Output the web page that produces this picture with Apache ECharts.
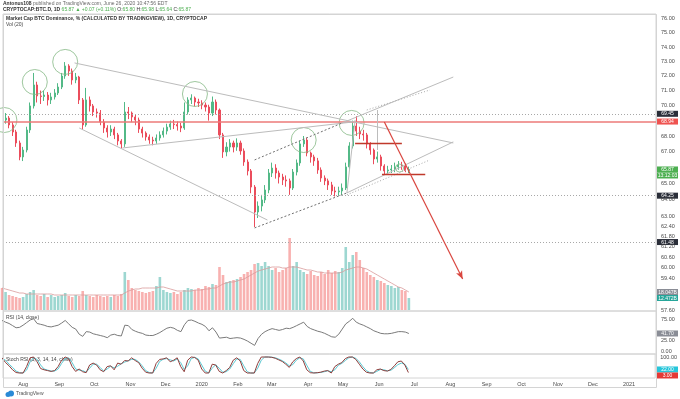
<!DOCTYPE html>
<html>
<head>
<meta charset="utf-8">
<script src="https://cdn.jsdelivr.net/npm/echarts@6/dist/echarts.min.js"></script>
<style>
  html, body { margin: 0; padding: 0; background: #fff; }
  #chart { width: 680px; height: 399px; }
</style>
</head>
<body>
<div id="chart"></div>
<script>
// BTC dominance, 3-day candles: [open, close, low, high]
const firstDate = '2019-07-14';
const stepDays = 3;
const candles = [
  [69.30,69.04,68.70,69.55],[69.04,69.17,68.80,69.50],[69.17,68.72,68.50,69.30],[68.72,68.26,68.00,68.90],[68.26,67.55,67.30,68.40],
  [67.55,66.66,66.45,67.70],[66.66,67.10,66.40,67.30],[67.10,68.39,66.95,68.60],[68.39,69.97,68.20,70.20],[69.97,71.38,69.80,72.20],
  [71.38,70.64,70.20,71.60],[70.64,70.60,70.10,71.00],[70.60,70.70,70.30,71.00],[70.70,70.37,70.00,70.90],[70.37,70.57,70.10,70.85],
  [70.57,70.84,70.40,71.10],[70.84,71.24,70.70,71.50],[71.24,71.99,71.10,72.20],[71.99,72.68,71.80,72.95],[72.68,72.33,72.00,72.80],
  [72.33,71.72,71.40,72.50],[71.72,71.92,71.50,72.20],[71.92,70.37,70.10,72.00],[70.37,68.72,68.40,70.50],[68.72,70.37,68.60,71.18],
  [70.37,69.97,69.60,70.60],[69.97,69.57,69.30,70.10],[69.57,69.50,69.20,69.80],[69.50,68.91,68.70,69.70],[68.91,68.52,68.20,69.10],
  [68.52,68.26,67.90,68.70],[68.26,68.45,68.00,68.70],[68.45,68.07,67.80,68.60],[68.07,67.68,67.40,68.20],[67.68,67.49,67.20,67.80],
  [67.49,69.57,67.30,70.23],[69.57,69.50,69.10,69.90],[69.50,69.24,68.90,69.60],[69.24,69.04,68.70,69.40],[69.04,68.45,68.20,69.20],
  [68.45,68.19,67.90,68.60],[68.19,67.94,67.70,68.30],[67.94,67.74,67.50,68.10],[67.74,67.68,67.40,67.95],[67.68,67.87,67.50,68.10],
  [67.87,68.07,67.70,68.30],[68.07,68.32,67.90,68.55],[68.32,68.58,68.10,68.80],[68.58,68.78,68.40,69.00],[68.78,68.74,68.45,69.05],
  [68.74,68.65,68.35,68.95],[68.65,68.52,68.25,68.85],[68.52,69.57,68.40,70.20],[69.57,70.37,69.40,70.55],[70.37,70.50,70.10,70.75],
  [70.50,70.23,69.95,70.60],[70.23,70.17,69.90,70.45],[70.17,70.03,69.75,70.35],[70.03,69.90,69.60,70.20],[69.90,69.50,69.00,70.05],
  [69.50,70.23,69.30,70.60],[70.23,69.70,69.40,70.40],[69.70,68.07,67.80,69.80],[68.07,66.98,66.60,68.20],[66.98,67.29,66.70,67.60],
  [67.29,67.55,67.00,67.80],[67.55,67.29,66.95,67.70],[67.29,67.55,67.05,67.85],[67.55,67.04,66.80,67.70],[67.04,66.34,66.10,67.20],
  [66.34,65.78,65.50,66.50],[65.78,64.78,64.40,65.90],[64.78,63.26,62.36,64.90],[63.26,63.62,62.90,63.90],[63.62,63.99,63.30,64.30],
  [63.99,64.60,63.80,64.90],[64.60,65.65,64.40,65.90],[65.65,65.96,65.40,66.30],[65.96,65.65,65.30,66.20],[65.65,65.40,65.00,65.80],
  [65.40,65.22,64.90,65.60],[65.22,65.16,64.80,65.50],[65.16,64.72,64.30,65.30],[64.72,65.71,64.60,65.90],[65.71,66.28,65.50,66.50],
  [66.28,67.49,66.10,67.70],[67.49,67.74,67.30,68.00],[67.74,66.91,66.70,67.90],[66.91,66.66,66.30,67.00],[66.66,66.41,66.10,66.80],
  [66.41,65.84,65.60,66.60],[65.84,65.34,65.10,66.00],[65.34,65.16,64.90,65.50],[65.16,64.91,64.60,65.30],[64.91,64.54,64.30,65.10],
  [64.54,64.48,64.20,64.80],[64.48,64.54,64.25,64.80],[64.54,64.72,64.30,65.00],[64.72,66.03,64.60,66.30],[66.03,67.36,65.90,67.60],
  [67.36,68.65,67.20,69.00],[68.65,68.32,68.00,69.30],[68.32,68.13,67.80,68.60],[68.13,68.07,67.70,68.40],[68.07,67.49,67.20,68.20],
  [67.49,67.10,66.80,67.60],[67.10,66.53,66.20,67.20],[66.53,66.66,66.30,67.00],[66.66,66.09,65.80,66.80],[66.09,65.78,65.55,66.20],
  [65.78,65.84,65.60,66.10],[65.84,65.90,65.65,66.15],[65.90,66.03,65.70,66.30],[66.03,66.15,65.85,66.40],[66.15,66.09,65.85,66.35],
  [66.09,65.80,65.70,66.25],[65.80,65.87,65.64,66.05]
];
const volumes = [
  22,18,15,14,13,12,13,16,18,20, 15,14,16,13,15,13,14,15,17,14,
  13,15,14,19,15,14,13,15,14,13, 14,13,15,14,16,38,30,22,20,19,
  18,17,18,19,24,33,20,18,17,18, 16,18,20,22,21,20,22,21,24,23,
  26,25,43,35,28,29,30,31,33,36, 38,40,46,47,44,48,44,40,42,38,
  40,42,72,44,48,40,38,36,39,35, 34,38,36,40,37,39,38,42,63,48,
  55,58,50,42,38,35,33,30,29,27, 25,24,22,23,20,19,12
];
const volumeMa = [
  22,21,20,19,18,17,17,16,16,16, 16,16,16,16,16,15,15,15,15,15,
  15,15,15,15,15,15,15,15,15,15, 15,15,15,15,15,17,19,20,21,21,
  22,22,22,22,22,23,23,22,21,20, 19,19,19,19,19,20,20,20,21,21,
  22,22,24,26,27,28,28,29,30,31, 33,35,37,39,40,41,42,43,43,43,
  42,42,43,43,43,42,41,40,40,39, 38,38,37,37,37,37,37,38,40,41,
  42,43,43,42,41,39,37,35,33,31, 29,27,25,23,22,20,18
];
const rsi = [
  72,68,65,60,55,56,61,67,73,76, 65,63,61,58,57,59,61,66,72,64,
  56,52,40,35,46,45,41,39,37,35, 32,38,40,37,36,61,60,51,47,44,
  42,38,37,37,40,44,49,54,56,54, 49,46,62,72,73,70,66,63,58,48,
  55,45,31,32,33,30,31,32,31,28, 24,19,14,30,40,46,50,53,51,49,
  51,54,53,56,60,64,68,58,53,50, 47,45,42,38,34,33,40,52,64,70,
  77,68,64,61,57,53,48,45,42,41, 41,42,44,46,46,45,41.7
];
const stochK = [
  95,65,45,20,3,0,0,40,95,100, 70,28,20,15,10,15,40,80,100,90,
  40,10,25,8,2,50,62,50,20,8, 40,45,20,62,55,78,75,95,78,65,
  30,5,0,0,60,85,88,95,70,80, 95,40,8,80,100,97,80,25,0,0,
  55,50,10,0,15,35,80,95,75,15, 0,0,0,60,100,100,100,98,92,82,
  72,55,35,70,90,100,75,20,2,0, 2,5,12,15,0,40,55,65,90,100,
  100,85,55,25,5,0,0,20,25,15, 12,22,45,70,75,50,3
];
const stochD = [
  90,80,55,35,12,2,0,18,70,95, 85,50,25,18,12,12,25,60,90,95,
  65,25,18,15,5,30,55,55,35,12, 25,42,32,42,58,68,77,85,85,70,
  45,15,3,0,30,72,86,90,82,75, 88,65,22,45,90,98,88,50,12,0,
  30,52,30,5,8,25,58,88,85,45, 8,0,0,30,80,100,100,99,95,87,
  77,63,45,52,80,95,88,48,10,1, 1,4,8,14,8,20,48,60,78,95,
  100,92,70,40,15,3,0,10,22,20, 14,17,33,52,62,55,22
];
const monthTicks = ['2019-08-01','2019-09-01','2019-10-01','2019-11-01','2019-12-01','2020-01-01',
  '2020-02-01','2020-03-01','2020-04-01','2020-05-01','2020-06-01','2020-07-01','2020-08-01',
  '2020-09-01','2020-10-01','2020-11-01','2020-12-01','2021-01-01'];
const monthNames = ['Jan','Feb','Mar','Apr','May','Jun','Jul','Aug','Sep','Oct','Nov','Dec'];
const priceTicks = [76,75,74,73,72,71,70,68,67,65,64,63,62.4,61.8,61.2,60.6,60,59.4,57.6];
const rsiTicks = [75,25,0];
const stochTicks = [100];

// drawn levels and trendlines: [date, value, date, value]
const resistance = 68.94;
const dottedLevels = [69.45, 64.25, 61.48];
const trendLines = [
  ['2019-09-14',72.89,'2020-08-03',67.55],
  ['2019-09-18',68.52,'2020-02-26',62.78],
  ['2019-07-12',65.53,'2020-08-15',59.02],
  ['2019-10-25',67.23,'2020-05-09',68.91],
  ['2020-04-30',68.85,'2020-08-03',71.92],
  ['2020-05-04',64.42,'2020-08-03',67.62],
  ['2020-05-04',64.42,'2020-05-11',69.04],
  ['2020-05-30',69.70,'2020-05-30',67.10]
];
const dashedLines = [
  ['2020-02-15',66.47,'2020-04-30',68.85],
  ['2020-02-15',62.31,'2020-05-04',64.42]
];
const dottedLines = [
  ['2020-05-21',69.70,'2020-07-14',71.04],
  ['2020-05-04',64.30,'2020-07-14',66.47]
];
const redLines = [
  ['2020-05-11',67.52,'2020-06-20',67.52],
  ['2020-06-03',65.59,'2020-07-10',65.59]
];
const redArrow = ['2020-06-05',68.91,'2020-08-11',59.36];
const circles = [['2019-07-16',69.04],['2019-08-11',71.58],['2019-09-06',72.96],
  ['2019-12-26',70.77],['2020-03-28',67.74],['2020-05-08',68.85]];
const smallCircles = [['2020-06-18',65.96]];

const DAY = 864e5;
const toTime = s => Date.parse(s + 'T00:00:00Z');
const startTime = toTime(firstDate);
const times = candles.map((c, i) => startTime + i * stepDays * DAY);
const up = candles.map(c => c[1] >= c[0]);
const axisMin = toTime('2020-01-01') - 170.2 * DAY;
const axisMax = axisMin + 558.6 * DAY;
const font = 'Liberation Sans, Arial, sans-serif';

const chart = echarts.init(document.getElementById('chart'));

function xAxisFor(gridIndex, labels) {
  return {
    type: 'value', gridIndex: gridIndex, min: axisMin, max: axisMax, scale: true,
    axisLine: { show: false }, axisTick: { show: false }, splitLine: { show: false },
    axisLabel: labels ? {
      show: true, customValues: monthTicks.map(toTime), fontSize: 5.5, color: '#4a4a4a',
      fontFamily: font, margin: 3,
      formatter: v => { const d = new Date(v); return d.getUTCMonth() === 0 ? String(d.getUTCFullYear()) : monthNames[d.getUTCMonth()]; }
    } : { show: false }
  };
}
function rightAxis(gridIndex, extra, ticks) {
  return Object.assign({
    gridIndex: gridIndex, position: 'right', type: 'value',
    axisLine: { show: false }, axisTick: { show: false }, splitLine: { show: false },
    axisLabel: ticks ? { customValues: ticks, fontSize: 5.5, color: '#4a4a4a', fontFamily: font, margin: 5,
      formatter: v => Number(v).toFixed(2) } : { show: false }
  }, extra);
}
function seg(item, style, ends) {
  return [
    { coord: [toTime(item[0]), item[1]], lineStyle: style, symbol: ends ? ends[0] : 'none' },
    { coord: [toTime(item[2]), item[3]], symbol: ends ? ends[1] : 'none', symbolSize: [5, 8] }
  ];
}

const grayStyle = { color: '#bcbcbc', width: 1, type: 'solid' };
const markData = []
  .concat(dottedLevels.map(v => ({ yAxis: v, lineStyle: { color: '#a8a8a8', width: 1, type: [1, 2] } })))
  .concat([{ yAxis: resistance, lineStyle: { color: '#ec7a78', width: 1.6, type: 'solid' } }])
  .concat(trendLines.map(t => seg(t, grayStyle)))
  .concat(dashedLines.map(t => seg(t, { color: '#707070', width: 1, type: [2, 2] })))
  .concat(dottedLines.map(t => seg(t, { color: '#a8a8a8', width: 1, type: [1, 2] })))
  .concat(redLines.map(t => seg(t, { color: '#c0392b', width: 1.4, type: 'solid' })))
  .concat([seg(redArrow, { color: '#d9463f', width: 1.2, type: 'solid' }, ['none', 'arrow'])]);

chart.setOption({
  animation: false,
  backgroundColor: '#ffffff',
  grid: [
    { left: 3, right: 24, top: 14, height: 297, show: true, borderColor: '#d4d4d4', borderWidth: 1 },
    { left: 3, right: 24, top: 210, height: 100 },
    { left: 3, right: 24, top: 311, height: 43, show: true, borderColor: '#d4d4d4', borderWidth: 1 },
    { left: 3, right: 24, top: 354, height: 24, show: true, borderColor: '#d4d4d4', borderWidth: 1 }
  ],
  xAxis: [xAxisFor(0, false), xAxisFor(1, false), xAxisFor(2, false), xAxisFor(3, true)],
  yAxis: [
    rightAxis(0, { type: 'log', logBase: 10, min: 57.58, max: 76.36 }, priceTicks),
    rightAxis(1, { min: 0, max: 100 }, null),
    rightAxis(2, { min: -6, max: 94 }, rsiTicks),
    rightAxis(3, { min: -31.25, max: 118.75 }, stochTicks)
  ],
  series: [
    {
      type: 'bar', xAxisIndex: 1, yAxisIndex: 1, barWidth: 2.6, z: 1, silent: true,
      data: volumes.map((v, i) => ({ value: [times[i], v],
        itemStyle: { color: up[i] ? 'rgba(38,166,154,0.45)' : 'rgba(239,83,80,0.45)' } }))
    },
    {
      type: 'line', xAxisIndex: 1, yAxisIndex: 1, symbol: 'none', z: 2, silent: true,
      lineStyle: { color: '#d99a9a', width: 0.8 },
      data: volumeMa.map((v, i) => [times[i], v])
    },
    {
      type: 'candlestick', xAxisIndex: 0, yAxisIndex: 0, barWidth: 1.6, z: 3, silent: true,
      data: candles.map((c, i) => [times[i], c[0], c[1], c[2], c[3]]),
      itemStyle: { color: '#53b987', color0: '#eb4d5c', borderColor: '#53b987', borderColor0: '#eb4d5c', borderWidth: 1 },
      markLine: { silent: true, symbol: 'none', animation: false, label: { show: false }, data: markData }
    },
    {
      type: 'scatter', xAxisIndex: 0, yAxisIndex: 0, symbol: 'circle', symbolSize: 25, z: 4, silent: true,
      itemStyle: { color: 'rgba(0,0,0,0)', borderColor: '#86b986', borderWidth: 1 },
      data: circles.map(c => [toTime(c[0]), c[1]])
    },
    {
      type: 'scatter', xAxisIndex: 0, yAxisIndex: 0, symbol: 'circle', symbolSize: 8, z: 4, silent: true,
      itemStyle: { color: 'rgba(0,0,0,0)', borderColor: '#86b986', borderWidth: 1 },
      data: smallCircles.map(c => [toTime(c[0]), c[1]])
    },
    {
      type: 'line', xAxisIndex: 2, yAxisIndex: 2, symbol: 'none', silent: true,
      lineStyle: { color: '#7a7a7a', width: 1 },
      data: rsi.map((v, i) => [times[i], v])
    },
    {
      type: 'line', xAxisIndex: 3, yAxisIndex: 3, symbol: 'none', silent: true,
      lineStyle: { color: '#5cc8d2', width: 1 },
      data: stochD.map((v, i) => [times[i], v])
    },
    {
      type: 'line', xAxisIndex: 3, yAxisIndex: 3, symbol: 'none', silent: true,
      lineStyle: { color: '#8e3d3b', width: 1 },
      data: stochK.map((v, i) => [times[i], v])
    }
  ]
});

// value boxes on the right scale, placed through the axes
const last = candles[candles.length - 1];
const boxes = [
  { axis: 0, value: dottedLevels[0], bg: '#2a2e39' },
  { axis: 0, value: resistance, bg: '#ef5350' },
  { axis: 0, value: last[1], bg: '#4caf50' },
  { axis: 0, value: last[1], bg: '#4caf50', text: '13:12:03' },
  { axis: 0, value: dottedLevels[1], bg: '#2a2e39' },
  { axis: 0, value: dottedLevels[2], bg: '#2a2e39' },
  { axis: 1, value: volumeMa[volumeMa.length - 1], bg: '#8a8d96', text: '18.047B' },
  { axis: 1, value: volumes[volumes.length - 1], bg: '#26a69a', text: '12.472B' },
  { axis: 2, value: rsi[rsi.length - 1], bg: '#8a8d96' },
  { axis: 3, value: stochD[stochD.length - 1], bg: '#26c6da' },
  { axis: 3, value: stochK[stochK.length - 1], bg: '#e53935' }
];
boxes.forEach(b => { b.y = chart.convertToPixel({ yAxisIndex: b.axis }, b.value); });
boxes.sort((a, b) => a.y - b.y);
for (let i = 1; i < boxes.length; i++) {
  if (boxes[i].y < boxes[i - 1].y + 6) boxes[i].y = boxes[i - 1].y + 6;
}
const graphics = boxes.map(b => ({
  type: 'group', x: 657, y: b.y - 3, z: 10,
  children: [
    { type: 'rect', shape: { x: 0, y: 0, width: 21, height: 6 }, style: { fill: b.bg } },
    { type: 'text', style: { x: 10.5, y: 3.2, text: b.text || b.value.toFixed(2), fill: '#fff',
      font: '5px ' + font, textAlign: 'center', textVerticalAlign: 'middle' } }
  ]
}));

graphics.push(
  { type: 'rect', z: 9, shape: { x: 3.5, y: 14.5, width: 653, height: 373 }, style: { fill: 'none', stroke: '#d4d4d4', lineWidth: 1 } },
  { type: 'text', x: 3, y: 1, style: { text: '{b|Antonus108} published on TradingView.com, June 26, 2020 10:47:56 EDT',
      font: '5px ' + font, fill: '#6a6a6a', rich: { b: { fontWeight: 'bold', fill: '#333', fontSize: 5 } } } },
  { type: 'text', x: 3, y: 7, style: { text: '{b|CRYPTOCAP:BTC.D, 1D} {g|65.87 ▲ +0.07 (+0.11%)} O:{g|65.80} H:{g|65.98} L:{g|65.64} C:{g|65.87}',
      font: '5px ' + font, fill: '#333', rich: { b: { fontWeight: 'bold', fill: '#333', fontSize: 5 }, g: { fill: '#4caf50', fontSize: 5 } } } },
  { type: 'text', x: 6, y: 16, style: { text: 'Market Cap BTC Dominance, % (CALCULATED BY TRADINGVIEW), 1D, CRYPTOCAP',
      font: 'bold 5px ' + font, fill: '#333' } },
  { type: 'text', x: 6, y: 22, style: { text: 'Vol (20)', font: '5px ' + font, fill: '#444' } },
  { type: 'text', x: 6, y: 315, style: { text: 'RSI (14, close)', font: '5px ' + font, fill: '#444' } },
  { type: 'text', x: 6, y: 357, style: { text: 'Stoch RSI (3, 3, 14, 14, close)', font: '5px ' + font, fill: '#444' } },
  { type: 'circle', shape: { cx: 8, cy: 394.5, r: 2.5 }, style: { fill: '#2a8ad6' } },
  { type: 'circle', shape: { cx: 11, cy: 393.5, r: 3 }, style: { fill: '#2a8ad6' } },
  { type: 'text', x: 16, y: 391.5, style: { text: 'TradingView', font: '5px ' + font, fill: '#555' } }
);
chart.setOption({ graphic: graphics });
</script>
</body>
</html>
